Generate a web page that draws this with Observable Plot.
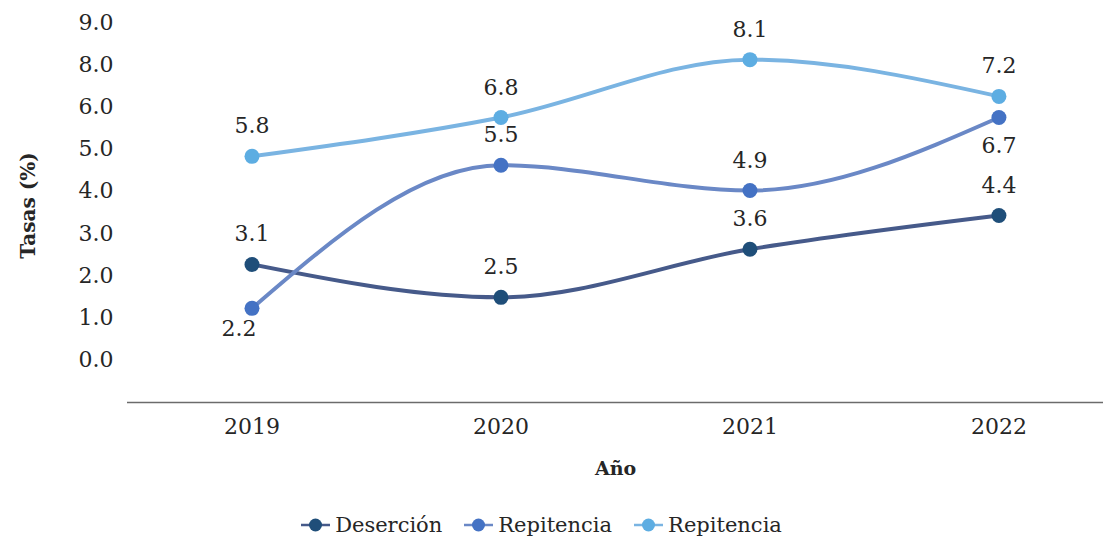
<!DOCTYPE html>
<html>
<head>
<meta charset="utf-8">
<script src="https://cdn.jsdelivr.net/npm/d3@7"></script>
<script src="https://cdn.jsdelivr.net/npm/@observablehq/plot@0.6"></script>
<style>
  html, body { margin: 0; padding: 0; background: #fff; }
  body { width: 1103px; height: 542px; overflow: hidden; font-family: "DejaVu Serif", serif; }
  #legend { display: flex; justify-content: center; align-items: center; gap: 22px; margin-top: 23px; padding-right: 20px; font-size: 21px; color: #262626; font-family: "DejaVu Serif", serif; }
  #legend .item { display: flex; align-items: center; gap: 5px; }
</style>
</head>
<body>
<div id="chart"></div>
<div id="legend"></div>
<script>
// ---- data ----
const years = [2019, 2020, 2021, 2022];
const seriesNames = ["Deserción", "Repitencia", "Repitencia"];
// plotted positions on the (evenly spaced) value axis
const desercion = [2.27, 1.49, 2.63, 3.43];
const repitenciaA = [1.23, 4.62, 4.02, 5.75];
const repitenciaB = [4.83, 5.75, 7.12, 6.25];
// printed data labels
const desercionLabels = ["3.1", "2.5", "3.6", "4.4"];
const repitenciaALabels = ["2.2", "5.5", "4.9", "6.7"];
const repitenciaBLabels = ["5.8", "6.8", "8.1", "7.2"];
const desercionPlacement = ["above", "above", "above", "above"];
const repitenciaAPlacement = ["below-left", "above", "above", "below"];
const repitenciaBPlacement = ["above", "above", "above", "above"];
// y axis tick labels as printed (slots 0..8)
const yTickLabels = ["0.0", "1.0", "2.0", "3.0", "4.0", "5.0", "6.0", "8.0", "9.0"];

const lineColors = ["#465a8a", "#6a88c6", "#7ab4e2"];
const dotColors = ["#1f4e79", "#4472c4", "#5dade2"];
const FONT = "DejaVu Serif, serif";

const seriesVals = [desercion, repitenciaA, repitenciaB];
const seriesLabels = [desercionLabels, repitenciaALabels, repitenciaBLabels];
const seriesPlace = [desercionPlacement, repitenciaAPlacement, repitenciaBPlacement];

const rows = [];
seriesVals.forEach((vals, s) => {
  years.forEach((yr, i) => {
    rows.push({ s, name: seriesNames[s], year: yr, value: vals[i], label: seriesLabels[s][i], place: seriesPlace[s][i] });
  });
});

const dyFor = p => p === "above" ? -30 : (p === "below" ? 28 : 21);
const dxFor = p => p === "below-left" ? -13 : 0;

const marks = [
  Plot.ruleY([-1], { stroke: "#6b6b6b", strokeWidth: 1.5 }),
  Plot.axisY({ ticks: d3.range(0, 9), tickFormat: d => yTickLabels[d], tickSize: 0, tickPadding: 14, label: null, fontSize: 22, fill: "#262626", fontFamily: FONT }),
  Plot.axisX({ ticks: years, tickFormat: d => String(d), tickSize: 0, tickPadding: 16, label: null, fontSize: 22, fill: "#262626", fontFamily: FONT }),
  Plot.text(["Tasas (%)"], { frameAnchor: "left", textAnchor: "middle", dx: -99, dy: -7, rotate: -90, fontWeight: "bold", fontSize: 20, fill: "#262626", fontFamily: FONT }),
  Plot.text(["Año"], { frameAnchor: "bottom", dy: 72, fontWeight: "bold", fontSize: 19, fill: "#262626", fontFamily: FONT }),
];
seriesVals.forEach((vals, s) => {
  const data = rows.filter(r => r.s === s);
  marks.push(Plot.line(data, { x: "year", y: "value", curve: "monotone-x", stroke: lineColors[s], strokeWidth: 4 }));
});
seriesVals.forEach((vals, s) => {
  const data = rows.filter(r => r.s === s);
  marks.push(Plot.dot(data, { x: "year", y: "value", r: 7.5, fill: dotColors[s], stroke: "none" }));
});
["above", "below", "below-left"].forEach(p => {
  marks.push(Plot.text(rows.filter(r => r.place === p), { x: "year", y: "value", text: "label", dy: dyFor(p), dx: dxFor(p), fontSize: 22, fill: "#262626", fontFamily: FONT }));
});

const chart = Plot.plot({
  width: 1103,
  height: 490,
  marginTop: 22,
  marginBottom: 88,
  marginLeft: 127,
  marginRight: 0,
  style: { fontFamily: FONT, fontSize: "22px", color: "#262626", background: "#fff" },
  x: { type: "linear", domain: [2018.5, 2022.42], axis: null },
  y: { domain: [-1, 8], axis: null },
  marks
});
document.getElementById("chart").appendChild(chart);

// legend
const legend = document.getElementById("legend");
seriesNames.forEach((name, s) => {
  const item = document.createElement("div");
  item.className = "item";
  item.innerHTML = `<svg width="29" height="16"><line x1="0" y1="8" x2="29" y2="8" stroke="${lineColors[s]}" stroke-width="2.5"/><circle cx="14.5" cy="8" r="6.5" fill="${dotColors[s]}"/></svg><span>${name}</span>`;
  legend.appendChild(item);
});
</script>
</body>
</html>
